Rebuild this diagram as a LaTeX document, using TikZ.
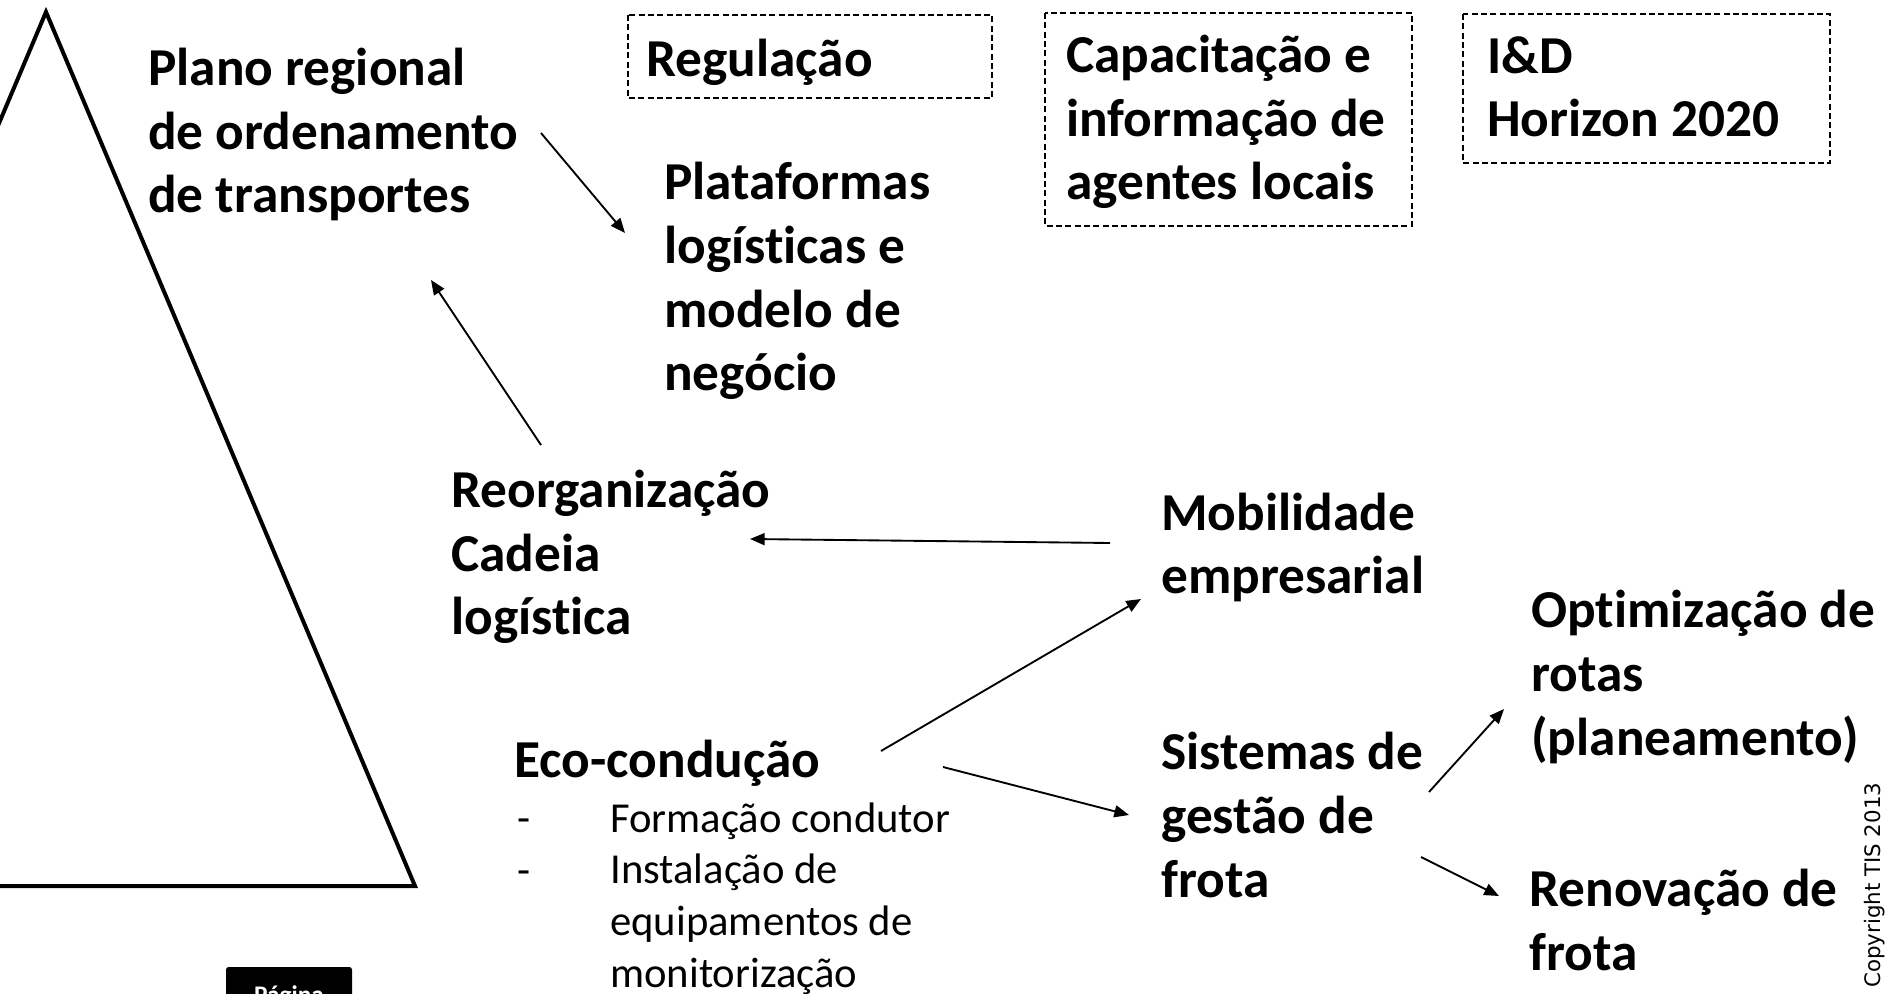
\documentclass[tikz,border=0pt]{standalone}
\usepackage{fontspec}
\setmainfont{Carlito}[Ligatures=NoCommon]
\newfontfamily\dejavu{DejaVu Sans}
\usetikzlibrary{arrows.meta}
\begin{document}
\begin{tikzpicture}[x=0.75pt,y=-0.75pt,
  big/.style={font=\fontsize{40}{47.8}\selectfont\bfseries, align=left, inner sep=0pt, anchor=base west},
  small/.style={font=\fontsize{32}{38.75}\selectfont, align=left, inner sep=0pt, anchor=base west},
  dashbox/.style={draw, line width=1pt, dash pattern=on 4.5pt off 2.5pt},
  conn/.style={line width=1.4pt, -{Triangle[length=11pt,width=9pt]}}]
\useasboundingbox (0,0) rectangle (1886,994);
% pyramid
\draw[line width=3pt, line join=miter] (-323,886) -- (46,12) -- (415,886) -- cycle;
% dashed boxes
\draw[dashbox] (628,15) rectangle (992,98);
\draw[dashbox] (1045,13) rectangle (1412,226);
\draw[dashbox] (1463,14) rectangle (1830,163);
% texts (anchored at the baseline of their last line)
\node[big] (plano) at (148,213) {Plano regional\\de ordenamento\\de transportes};
\node[big] (reg) at (646,77) {Regulação};
\node[big] (cap) at (1066,200) {Capacitação e\\informação de\\agentes locais};
\node[big] (id) at (1487,137) {I\&D\\Horizon 2020};
\node[big] (plat) at (664,391) {Plataformas\\logísticas e\\modelo de\\negócio};
\node[big] (reorg) at (451,635) {Reorganização\\Cadeia\\logística};
\node[big] (mob) at (1161,594) {Mobilidade\\empresarial};
\node[big] (opt) at (1531,755) {Optimização de\\rotas\\(planeamento)};
\node[big] (sis) at (1161,897) {Sistemas de\\gestão de\\frota};
\node[big] (ren) at (1529,970) {Renovação de\\frota};
\node[big] (eco) at (514,777) {Eco-condução};
\node[small] (dashA) at (517,832) {-};
\node[small] (dashB) at (517,884) {-};
\node[small] (lst) at (610,987) {Formação condutor\\Instalação de\\equipamentos de\\monitorização};
\node[rotate=90, anchor=base west, inner sep=0pt, font=\dejavu\fontsize{16}{19}\selectfont] (copy) at (1880,988) {Copyright TIS 2013};
% page tab
\fill[rounded corners=2pt] (226,967) rectangle (352,1012);
\node[anchor=base, inner sep=0pt, text=white, font=\fontsize{19}{22}\selectfont\bfseries] (pag) at (289,1003) {Página};
% connector end points
\coordinate (a1) at (541,133); \coordinate (a2) at (625,233);
\coordinate (b1) at (541,445); \coordinate (b2) at (431,280);
\coordinate (c1) at (1110,543); \coordinate (c2) at (750,539);
\coordinate (d1) at (881,751); \coordinate (d2) at (1141,599);
\coordinate (e1) at (943,767); \coordinate (e2) at (1129,815);
\coordinate (f1) at (1429,792); \coordinate (f2) at (1504,709);
\coordinate (g1) at (1421,857); \coordinate (g2) at (1499,896);
\draw[conn] (a1) -- (a2);
\draw[conn] (b1) -- (b2);
\draw[conn] (c1) -- (c2);
\draw[conn] (d1) -- (d2);
\draw[conn] (e1) -- (e2);
\draw[conn] (f1) -- (f2);
\draw[conn] (g1) -- (g2);
\end{tikzpicture}
\end{document}
